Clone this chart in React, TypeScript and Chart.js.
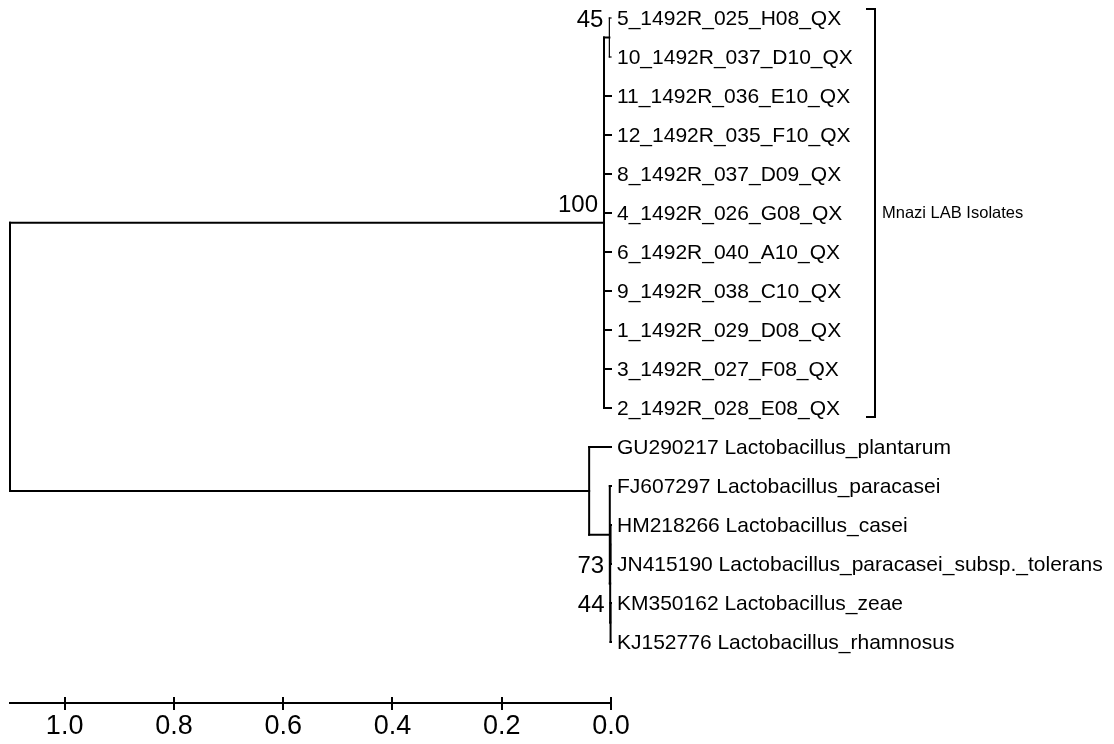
import React, { useEffect, useRef } from "react";
import { Chart, registerables } from "chart.js";

Chart.register(...registerables);

const FONT = '"Liberation Sans", Arial, sans-serif';

// Leaves, top to bottom
const leafLabels = [
  "5_1492R_025_H08_QX",
  "10_1492R_037_D10_QX",
  "11_1492R_036_E10_QX",
  "12_1492R_035_F10_QX",
  "8_1492R_037_D09_QX",
  "4_1492R_026_G08_QX",
  "6_1492R_040_A10_QX",
  "9_1492R_038_C10_QX",
  "1_1492R_029_D08_QX",
  "3_1492R_027_F08_QX",
  "2_1492R_028_E08_QX",
  "GU290217 Lactobacillus_plantarum",
  "FJ607297 Lactobacillus_paracasei",
  "HM218266 Lactobacillus_casei",
  "JN415190 Lactobacillus_paracasei_subsp._tolerans",
  "KM350162 Lactobacillus_zeae",
  "KJ152776 Lactobacillus_rhamnosus",
];

// Internal nodes (distance from tips), and their children ("L<i>" = leaf i)
const nodeNames = ["root", "mnazi", "n5_10", "cladeA", "cladeB", "cladeC", "nHMJN", "nKMKJ"];
const nodeDistances = [1.1, 0.0128, 0.003, 0.04, 0.0022, 0.0015, 0.0008, 0.0008];
const nodeChildren = [
  ["mnazi", "cladeA"],
  ["n5_10", "L2", "L3", "L4", "L5", "L6", "L7", "L8", "L9", "L10"],
  ["L0", "L1"],
  ["L11", "cladeB"],
  ["L12", "cladeC"],
  ["nHMJN", "nKMKJ"],
  ["L13", "L14"],
  ["L15", "L16"],
];

// Bootstrap support values
const bootstrapNodes = ["mnazi", "n5_10", "cladeC", "nKMKJ"];
const bootstrapValues = [100, 45, 73, 44];

// Group bracket
const groupName = "Mnazi LAB Isolates";
const groupFirstLeaf = 0;
const groupLastLeaf = 10;

// Scale ticks
const axisTicks = [0, 0.2, 0.4, 0.6, 0.8, 1.0];
const axisMax = 1.1;

type Pt = { x: number; y: number };

function computePositions(): Record<string, Pt> {
  const pos: Record<string, Pt> = {};
  const get = (id: string): Pt => {
    if (pos[id]) return pos[id];
    if (id.startsWith("L")) {
      pos[id] = { x: 0, y: Number(id.slice(1)) };
      return pos[id];
    }
    const k = nodeNames.indexOf(id);
    const ch = nodeChildren[k];
    const a = get(ch[0]);
    const b = get(ch[ch.length - 1]);
    for (const c of ch) get(c);
    pos[id] = { x: nodeDistances[k], y: (a.y + b.y) / 2 };
    return pos[id];
  };
  nodeNames.forEach((n) => get(n));
  return pos;
}

const thinNodes = new Set(["n5_10"]);

export default function App() {
  const ref = useRef<HTMLCanvasElement | null>(null);

  useEffect(() => {
    if (!ref.current) return;
    const pos = computePositions();
    const datasets: any[] = [];
    const seg = (a: Pt, b: Pt, w: number) =>
      datasets.push({
        data: [a, b],
        showLine: true,
        borderColor: "#000",
        borderWidth: w,
        pointRadius: 0,
        pointHoverRadius: 0,
        fill: false,
        clip: false,
        borderCapStyle: "square",
      });

    nodeNames.forEach((n, k) => {
      const p = pos[n];
      const ch = nodeChildren[k];
      const w = thinNodes.has(n) ? 1.2 : 2;
      const first = pos[ch[0]];
      const last = pos[ch[ch.length - 1]];
      seg({ x: p.x, y: first.y }, { x: p.x, y: last.y }, w);
      ch.forEach((c) => {
        const cp = pos[c];
        seg({ x: p.x, y: cp.y }, { x: cp.x, y: cp.y }, w);
      });
    });

    const rowTop = -18 / 39;
    const rowSpan = 703 / 39;

    const textPlugin = {
      id: "treeText",
      afterDraw(chart: any) {
        const { ctx } = chart;
        const x = chart.scales.x;
        const y = chart.scales.y;
        ctx.save();
        ctx.fillStyle = "#000";
        ctx.strokeStyle = "#000";

        // leaf labels
        ctx.font = `21px ${FONT}`;
        ctx.textAlign = "left";
        ctx.textBaseline = "middle";
        const tipX = x.getPixelForValue(0) + 6;
        leafLabels.forEach((l, i) => ctx.fillText(l, tipX, y.getPixelForValue(i) + 1));

        // group bracket
        let maxW = 0;
        for (let i = groupFirstLeaf; i <= groupLastLeaf; i++) {
          maxW = Math.max(maxW, ctx.measureText(leafLabels[i]).width);
        }
        const bx = Math.round(tipX + maxW + 22);
        const top = Math.round(y.getPixelForValue(groupFirstLeaf) - 9);
        const bot = Math.round(y.getPixelForValue(groupLastLeaf) + 9);
        ctx.lineWidth = 2;
        ctx.beginPath();
        ctx.moveTo(bx - 9, top);
        ctx.lineTo(bx, top);
        ctx.lineTo(bx, bot);
        ctx.lineTo(bx - 9, bot);
        ctx.stroke();
        ctx.font = `16.5px ${FONT}`;
        ctx.fillText(groupName, bx + 7, y.getPixelForValue((groupFirstLeaf + groupLastLeaf) / 2));

        // bootstrap values
        ctx.font = `24px ${FONT}`;
        ctx.textAlign = "right";
        ctx.textBaseline = "alphabetic";
        bootstrapNodes.forEach((n, k) => {
          const p = pos[n];
          ctx.fillText(String(bootstrapValues[k]), x.getPixelForValue(p.x) - 6, y.getPixelForValue(p.y) - 11);
        });

        // upper part of scale ticks
        ctx.lineWidth = 2;
        ctx.beginPath();
        axisTicks.forEach((v) => {
          const px = Math.round(x.getPixelForValue(v));
          ctx.moveTo(px, x.top - 6);
          ctx.lineTo(px, x.top);
        });
        ctx.stroke();
        ctx.restore();
      },
    };

    const chart = new Chart(ref.current, {
      type: "scatter",
      data: { datasets },
      options: {
        animation: false,
        responsive: true,
        maintainAspectRatio: false,
        devicePixelRatio: 1,
        layout: { padding: { left: 10, right: 503, top: 0, bottom: 0 } },
        plugins: { legend: { display: false }, tooltip: { enabled: false } },
        events: [],
        scales: {
          x: {
            type: "linear",
            min: 0,
            max: axisMax,
            reverse: true,
            afterFit: (s: any) => {
              s.height = 41;
            },
            afterBuildTicks: (s: any) => {
              s.ticks = axisTicks.map((v) => ({ value: v }));
            },
            border: { display: true, color: "#000", width: 2 },
            grid: {
              drawOnChartArea: false,
              drawTicks: true,
              tickLength: 7,
              color: "#000",
              lineWidth: 2,
            },
            ticks: {
              color: "#000",
              padding: 0,
              maxRotation: 0,
              autoSkip: false,
              font: { family: FONT, size: 27 },
              callback: (v: any) => Number(v).toFixed(1),
            },
          },
          y: {
            type: "linear",
            display: false,
            reverse: true,
            min: rowTop,
            max: rowTop + rowSpan,
          },
        },
      },
      plugins: [textPlugin],
    });
    return () => chart.destroy();
  }, []);

  return (
    <div style={{ position: "fixed", left: 0, top: 0, width: 1114, height: 744, background: "#fff" }}>
      <canvas ref={ref} />
    </div>
  );
}
